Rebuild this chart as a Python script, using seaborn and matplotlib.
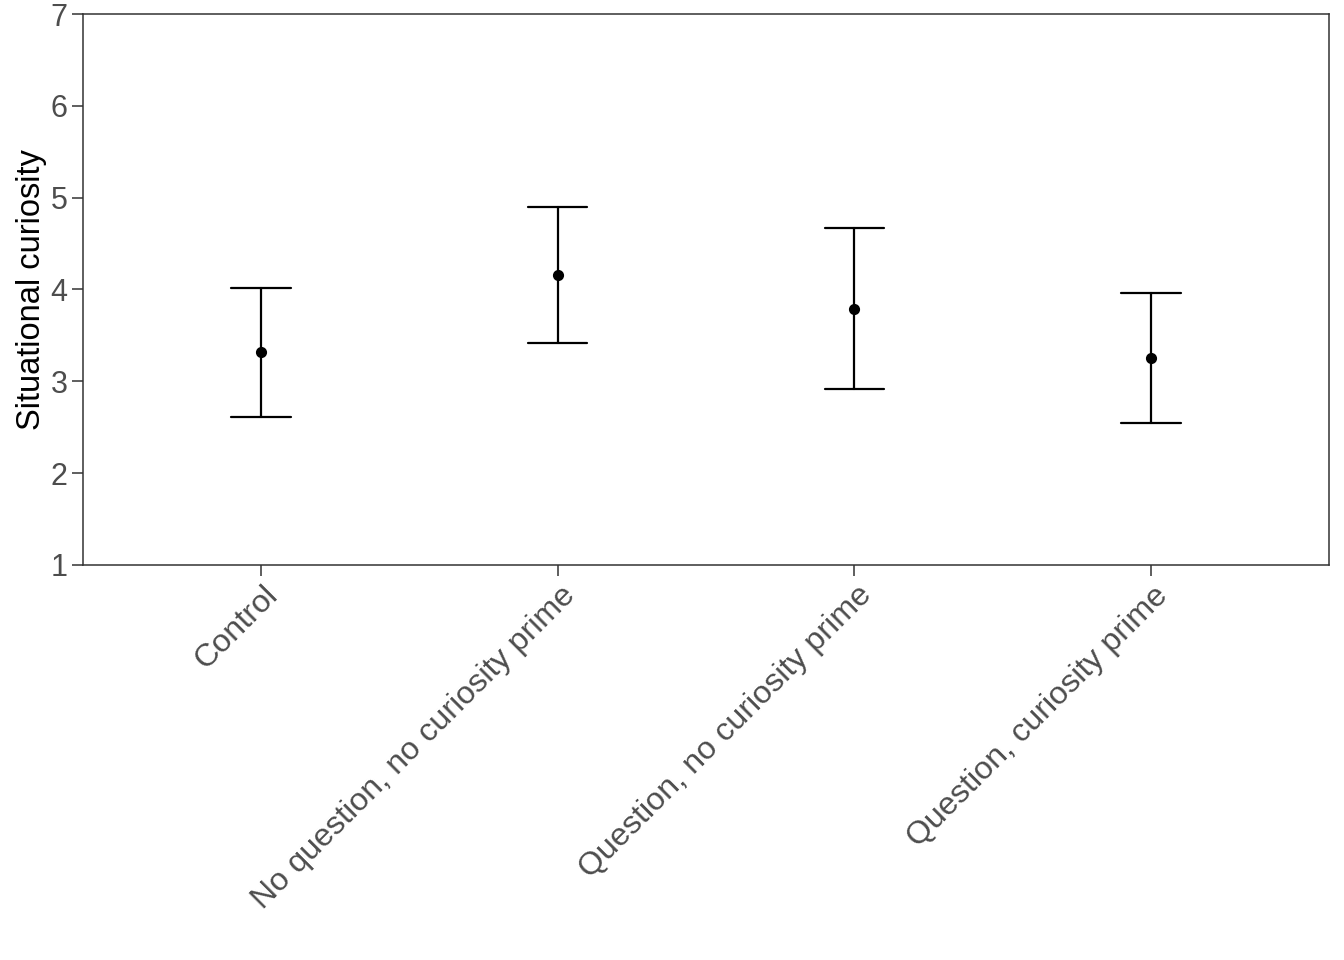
import matplotlib
matplotlib.use("Agg")
import matplotlib.pyplot as plt
import matplotlib.transforms as mtransforms
import seaborn as sns
import pandas as pd

conditions = ["Control", "No question, no curiosity prime",
              "Question, no curiosity prime", "Question, curiosity prime"]
means = [3.32, 4.16, 3.79, 3.25]
lowers = [2.61, 3.42, 2.92, 2.55]
uppers = [4.02, 4.90, 4.67, 3.96]
y_ticks = [1, 2, 3, 4, 5, 6, 7]
y_label = "Situational curiosity"

rows = []
for c, lo, m, hi in zip(conditions, lowers, means, uppers):
    for v in (lo, m, hi):
        rows.append({"condition": c, "value": v})
df = pd.DataFrame(rows)

sns.set_theme(style="white")
plt.rcParams["font.family"] = ["Liberation Sans", "DejaVu Sans"]

fig = plt.figure(figsize=(13.44, 9.6), dpi=100)
ax = fig.add_axes([83/1344, 1-565/960, (1329-83)/1344, (565-14)/960])

sns.pointplot(data=df, x="condition", y="value", order=conditions,
              estimator="median", errorbar=("pi", 100), color="black",
              linestyle="none", capsize=0.2, err_kws={"linewidth": 1.6},
              markersize=6, marker="o", ax=ax)

ax.set_xlim(-0.6, 3.6)
ax.set_ylim(1, 7)
ax.set_yticks(y_ticks)
ax.set_yticklabels([str(t) for t in y_ticks])
ax.set_xlabel("")
ax.set_ylabel(y_label, fontsize=23.5, color="black", labelpad=3)

for s in ax.spines.values():
    s.set_visible(True)
    s.set_color("#333333")
    s.set_linewidth(1.1)

ax.tick_params(axis="both", which="both", direction="out", length=8, width=1.1,
               color="#333333", labelcolor="#4D4D4D", labelsize=22,
               left=True, bottom=True, pad=3)
for lab in ax.get_xticklabels():
    lab.set_rotation(45)
    lab.set_ha("right")
    lab.set_va("top")
    lab.set_rotation_mode("anchor")
    lab.set_fontsize(23.2)
    lab.set_transform(lab.get_transform() +
                      mtransforms.ScaledTranslation(2/100, 0, fig.dpi_scale_trans))

fig.savefig("out.png", dpi=100, facecolor="white")
